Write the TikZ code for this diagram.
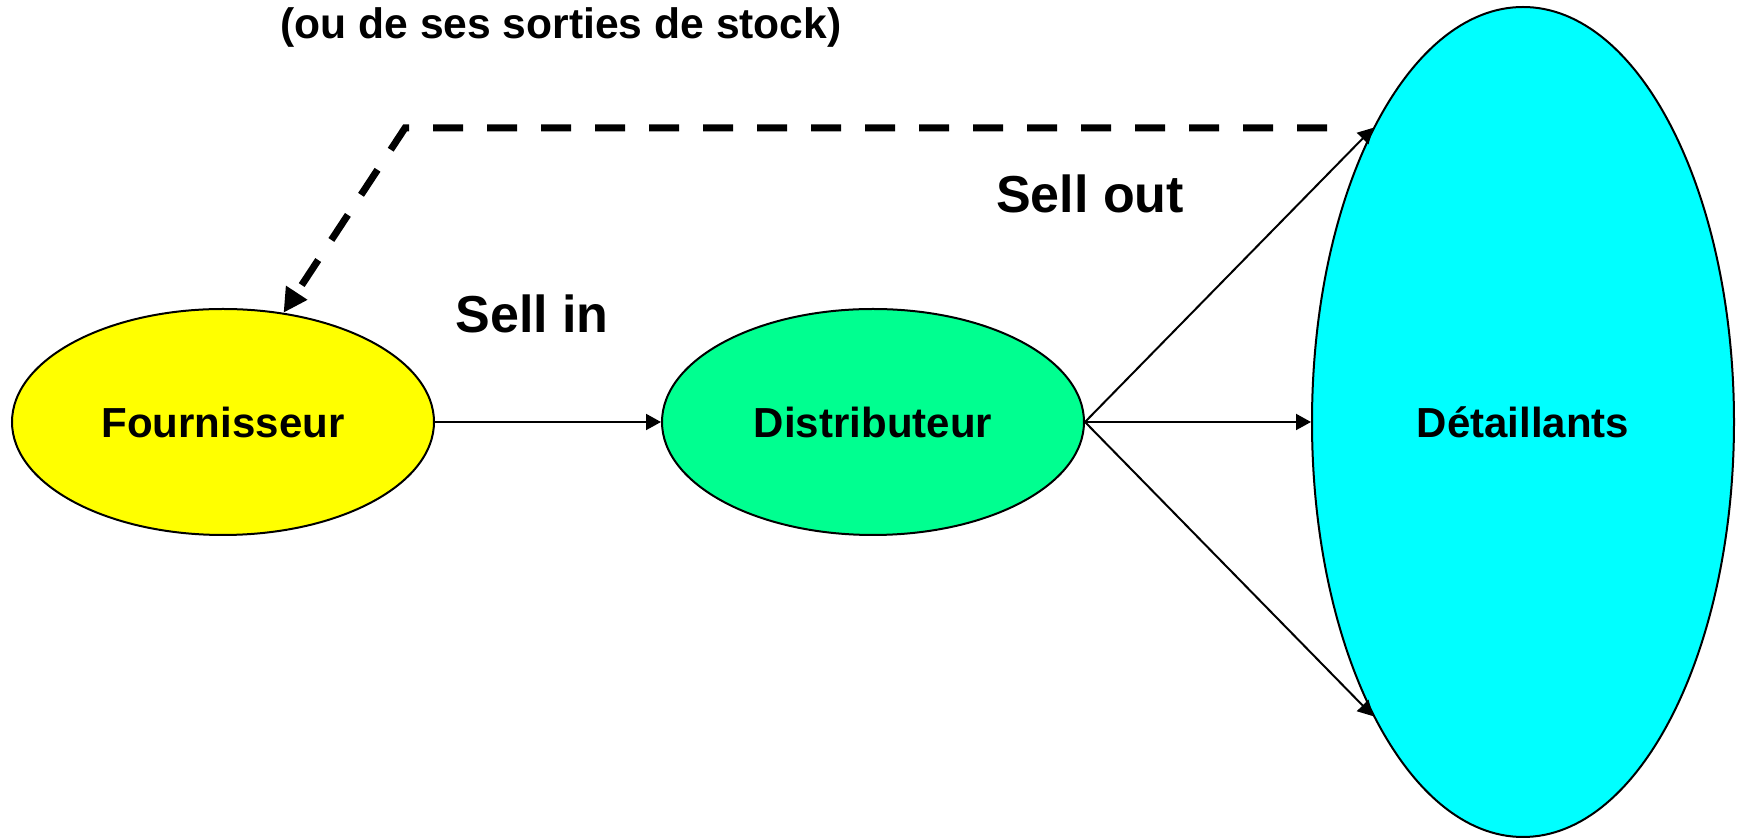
\documentclass[tikz,border=0pt]{standalone}
\usepackage{fontspec}
\setmainfont{Liberation Sans}
\usetikzlibrary{shapes.geometric,arrows.meta}
\definecolor{fyellow}{RGB}{255,255,0}
\definecolor{dgreen}{RGB}{0,255,144}
\definecolor{dcyan}{RGB}{0,255,255}
\begin{document}
\begin{tikzpicture}[x=0.5pt,y=-0.5pt,
  blob/.style={ellipse,draw=black,line width=1pt,inner sep=0pt,
    font=\fontsize{21}{25}\selectfont\bfseries},
  flow/.style={line width=1pt,-{Triangle[length=7.5pt,width=8pt]}},
  feedback/.style={line width=3.5pt,dash pattern=on 15pt off 12pt,
    -{Triangle[length=12pt,width=12pt]}},
  biglabel/.style={font=\fontsize{26}{30}\selectfont\bfseries,anchor=base,inner sep=0pt},
  note/.style={font=\fontsize{21.3}{25}\selectfont\bfseries,anchor=base,inner sep=0pt}]
\useasboundingbox (0,0) rectangle (1737,838);
\node[blob,fill=fyellow,minimum width=211pt,minimum height=113pt] (F) at (223,422) {Fournisseur};
\node[blob,fill=dgreen,minimum width=211pt,minimum height=113pt] (D) at (873,422) {Distributeur};
\node[blob,fill=dcyan,minimum width=211pt,minimum height=415pt] (T) at (1523,422) {Détaillants};
\draw[flow] (F.east) -- (D.west);
\draw[flow] (D.east) -- (T.west);
\draw[flow] (D.east) -- (T.117);
\draw[flow] (D.east) -- (T.243);
\coordinate (ds) at (1327,128);
\coordinate (dc) at (405,128);
\draw[feedback] (ds) -- (dc) -- (F.61);
\node[biglabel] (so) at (1090,213) {Sell out};
\node[biglabel] (si) at (532,333) {Sell in};
\node[note] (nt) at (561,39) {(ou de ses sorties de stock)};
\end{tikzpicture}
\end{document}
